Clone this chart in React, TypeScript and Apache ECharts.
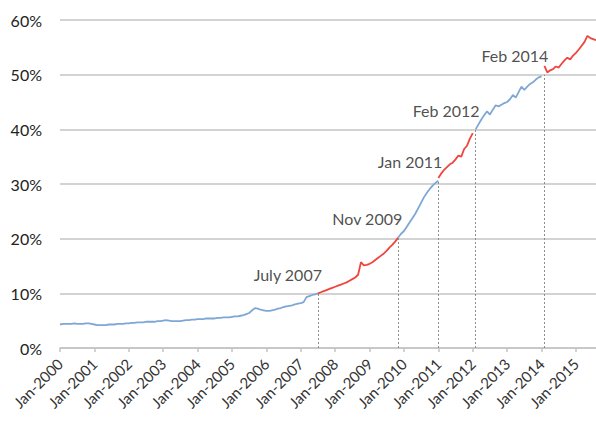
import React, { useEffect, useRef } from "react";
import * as echarts from "echarts";

const monthNames = ["Jan", "Feb", "Mar", "Apr", "May", "Jun", "Jul", "Aug", "Sep", "Oct", "Nov", "Dec"];
const years = [2000, 2001, 2002, 2003, 2004, 2005, 2006, 2007, 2008, 2009, 2010, 2011, 2012, 2013, 2014, 2015];
const lastMonth = "Aug-2015";

const categories: string[] = [];
outer: for (const y of years) {
  for (const m of monthNames) {
    const c = `${m}-${y}`;
    categories.push(c);
    if (c === lastMonth) break outer;
  }
}

// Segment 1 (blue): Jan-2000 .. Jul-2007
const seg1Start = "Jan-2000";
const seg1 = [
  4.3, 4.4, 4.4, 4.4, 4.4, 4.5, 4.4, 4.4, 4.4, 4.5, 4.5, 4.4,
  4.3, 4.2, 4.2, 4.2, 4.2, 4.3, 4.3, 4.3, 4.4, 4.4, 4.4, 4.5,
  4.5, 4.6, 4.6, 4.7, 4.7, 4.7, 4.8, 4.8, 4.8, 4.8, 4.9, 4.9,
  5.0, 5.1, 5.0, 4.9, 4.9, 4.9, 4.9, 5.0, 5.1, 5.1, 5.2, 5.2,
  5.3, 5.3, 5.3, 5.4, 5.4, 5.4, 5.4, 5.5, 5.5, 5.6, 5.6, 5.6,
  5.7, 5.8, 5.8, 5.9, 6.0, 6.2, 6.4, 6.9, 7.3, 7.2, 7.0, 6.9,
  6.8, 6.8, 6.9, 7.0, 7.2, 7.3, 7.5, 7.6, 7.7, 7.8, 8.0, 8.1,
  8.2, 8.4, 9.3, 9.5, 9.7, 9.8, 10.0,
];
// Segment 2 (red): Jul-2007 .. Nov-2009
const seg2Start = "Jul-2007";
const seg2 = [
  10.0, 10.2, 10.4, 10.6, 10.8, 11.0,
  11.2, 11.4, 11.6, 11.8, 12.0, 12.3, 12.6, 12.9, 13.4, 15.7, 15.1, 15.2,
  15.4, 15.7, 16.1, 16.5, 16.9, 17.3, 17.8, 18.4, 18.9, 19.5, 20.2,
];
// Segment 3 (blue): Nov-2009 .. Jan-2011
const seg3Start = "Nov-2009";
const seg3 = [20.2, 20.9, 21.4, 22.2, 23.0, 23.8, 24.6, 25.6, 26.6, 27.6, 28.4, 29.1, 29.7, 30.2, 30.6];
// Segment 4 (red): Jan-2011 .. Jan-2012
const seg4Start = "Jan-2011";
const seg4 = [31.1, 31.9, 32.6, 33.1, 33.6, 33.9, 34.5, 35.2, 35.0, 36.4, 37.0, 38.3, 39.3];
// Segment 5 (blue): Feb-2012 .. Jan-2014
const seg5Start = "Feb-2012";
const seg5 = [
  40.0, 40.9, 41.8, 42.6, 43.3, 42.7, 43.6, 44.4, 44.2, 44.5, 44.8, 45.0,
  45.5, 46.3, 45.8, 46.8, 47.8, 47.2, 47.8, 48.3, 48.6, 49.1, 49.5, 49.7,
];
// Segment 6 (red): Feb-2014 .. Aug-2015
const seg6Start = "Feb-2014";
const seg6 = [
  51.6, 50.4, 50.8, 51.0, 51.5, 51.3, 52.0, 52.6, 53.1, 52.8, 53.5,
  54.0, 54.6, 55.3, 56.0, 57.1, 56.7, 56.5, 56.3,
];

const segments = [
  { start: seg1Start, values: seg1 },
  { start: seg2Start, values: seg2 },
  { start: seg3Start, values: seg3 },
  { start: seg4Start, values: seg4 },
  { start: seg5Start, values: seg5 },
  { start: seg6Start, values: seg6 },
];

const eventMonths = ["Jul-2007", "Nov-2009", "Jan-2011", "Feb-2012", "Feb-2014"];
const eventLabels = ["July 2007", "Nov 2009", "Jan 2011", "Feb 2012", "Feb 2014"];
const eventValues = [10.0, 20.2, 30.6, 40.0, 50.0];

const yMin = 0;
const yMax = 60;
const yStep = 10;

const BLUE = "#7fa7d6";
const RED = "#f0443c";
const GRID = "#c4c4c4";
const FONT = "Lato, 'Open Sans', sans-serif";

export default function App() {
  const ref = useRef<HTMLDivElement>(null);
  useEffect(() => {
    if (!ref.current) return;
    const chart = echarts.init(ref.current, undefined, { renderer: "svg" });
    const lineSeries = segments.map((s, i) => {
      const startIdx = categories.indexOf(s.start);
      return {
        type: "line",
        data: s.values.map((v, k) => [categories[startIdx + k], v]),
        showSymbol: false,
        symbol: "none",
        z: 3,
        lineStyle: { color: i % 2 === 0 ? BLUE : RED, width: 1.8 },
        itemStyle: { color: i % 2 === 0 ? BLUE : RED },
      };
    });
    const eventSeries = {
      type: "scatter",
      symbolSize: 0,
      z: 2,
      itemStyle: { color: "transparent" },
      label: {
        show: true,
        position: [4, -19],
        align: "right",
        verticalAlign: "middle",
        fontSize: 16,
        fontFamily: FONT,
        color: "#222",
      },
      data: eventMonths.map((m, i) => ({
        value: [m, eventValues[i]],
        label: { formatter: eventLabels[i] },
      })),
      markLine: {
        silent: true,
        symbol: ["none", "none"],
        label: { show: false },
        lineStyle: { type: [2, 2], color: "#8c8c8c", width: 1 },
        data: eventMonths.map((m, i) => [
          { coord: [m, yMin] },
          { coord: [m, eventValues[i]] },
        ]),
      },
    };
    chart.setOption({
      animation: false,
      grid: { left: 60, right: 0, top: 20, bottom: 73, containLabel: false },
      xAxis: {
        type: "category",
        boundaryGap: false,
        data: categories,
        axisLine: { lineStyle: { color: GRID, width: 1.5 } },
        axisTick: {
          show: true,
          interval: (i: number) => i % 12 === 0,
          length: 4,
          lineStyle: { color: GRID, width: 1.5 },
        },
        axisLabel: {
          interval: (i: number) => i % 12 === 0,
          rotate: 45,
          fontSize: 15,
          fontFamily: FONT,
          color: "#333",
          margin: 13,
        },
        splitLine: { show: false },
      },
      yAxis: {
        type: "value",
        min: yMin,
        max: yMax,
        interval: yStep,
        axisLine: { show: false },
        axisTick: { show: false },
        axisLabel: {
          formatter: "{value}%",
          fontSize: 16,
          fontFamily: FONT,
          color: "#222",
          margin: 18,
        },
        splitLine: { lineStyle: { color: GRID, width: 1.5 } },
      },
      series: [...lineSeries, eventSeries],
    });
    return () => chart.dispose();
  }, []);
  return (
    <div
      ref={ref}
      style={{ position: "fixed", left: 0, top: 0, width: 596, height: 421, background: "#fff" }}
    />
  );
}
